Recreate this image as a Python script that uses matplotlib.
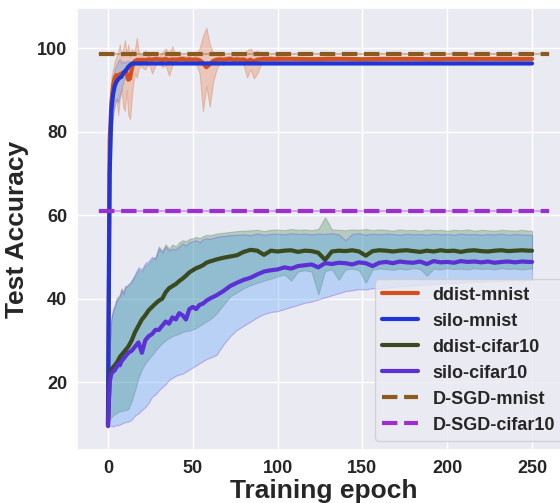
import matplotlib
matplotlib.use('Agg')
import matplotlib.pyplot as plt
import seaborn as sns

sns.set_theme(style='darkgrid')
plt.rcParams['font.family'] = ['Liberation Sans', 'DejaVu Sans']
plt.rcParams['font.weight'] = 'bold'

# ddist-mnist
ep_dm = list(range(0, 21)) + list(range(22, 101, 2)) + list(range(110, 251, 10))
dm_mean = [10, 78, 87, 91, 93, 93.6, 93.0, 93.8, 94.0, 94.2, 94.5, 94.0, 92.5, 92.8, 95.0, 96.5, 97.0, 97.2, 97.3, 97.2, 97.3,
           97.2, 97.4, 97.3, 97.5, 97.4, 97.3, 97.5, 97.2, 97.4, 97.3, 97.4, 97.5, 97.3, 97.4, 97.3, 97.4, 97.2, 96.5, 95.5, 96.2,
           97.0, 97.3, 97.4, 97.3, 97.4, 97.5, 97.3, 97.4, 97.3, 97.4, 97.0, 97.3, 96.9, 97.3, 97.4, 97.5, 97.4, 97.5, 97.4, 97.5,
           97.5, 97.4, 97.5, 97.5, 97.4, 97.5, 97.5, 97.5, 97.4, 97.5, 97.5, 97.5, 97.5, 97.5, 97.5]
dm_lo = [10, 70, 80, 84, 87, 88, 84, 88, 90, 86, 85, 90, 84, 83, 88, 92, 94, 93, 95, 96, 95.5,
         95.0, 96.5, 94.0, 96.0, 96.5, 95.5, 96.0, 93.5, 96.0, 96.5, 96.6, 96.8, 96.4, 96.6, 96.5, 96.2, 94.0, 85.0, 91.0, 86.0,
         92.0, 95.0, 96.5, 96.0, 96.6, 96.8, 96.5, 96.6, 96.3, 96.0, 93.0, 95.0, 92.8, 94.0, 96.0, 96.7, 96.6, 96.8, 96.7, 96.9,
         97.0, 96.9, 97.0, 97.1, 96.9, 97.0, 97.1, 97.0, 96.9, 97.1, 97.0, 97.1, 97.1, 97.0, 97.1]
dm_hi = [10, 86, 93, 95, 97, 98, 99, 101, 98, 100, 102, 99, 101, 98, 100, 99, 100, 102.5, 99.5, 98.5, 98.5,
         99.5, 98.0, 99.0, 98.5, 98.0, 99.0, 100.0, 99.0, 100.5, 98.0, 98.2, 98.3, 98.1, 98.2, 98.0, 98.5, 100.0, 103.0, 105.0, 101.0,
         99.0, 99.0, 98.3, 98.5, 98.2, 98.3, 98.1, 98.2, 98.4, 99.0, 99.5, 100.0, 99.0, 99.5, 98.5, 98.3, 98.2, 98.3, 98.1, 98.2,
         98.0, 98.0, 98.1, 97.9, 98.0, 98.0, 97.9, 98.0, 98.0, 97.9, 98.0, 97.9, 98.0, 97.9, 98.0]

# silo-mnist
ep_sm = list(range(0, 16)) + [20, 50, 100, 150, 200, 250]
sm_mean = [10, 70, 85, 89, 91, 92, 92.6, 93, 93.2, 94, 94.5, 95, 95.6, 96, 96.3, 96.4, 96.4, 96.4, 96.4, 96.4, 96.4, 96.4]
sm_lo = [10, 60, 78, 84, 86, 88, 87, 89, 90, 92, 93, 94, 95, 95.5, 96, 96.1, 96.2, 96.2, 96.2, 96.2, 96.2, 96.2]
sm_hi = [10, 80, 90, 93, 95, 96, 97, 97.5, 96.5, 97, 96.5, 97, 97, 97, 96.8, 96.7, 96.6, 96.6, 96.6, 96.6, 96.6, 96.6]

# cifar10
ep_c = list(range(0, 11)) + list(range(12, 61, 2)) + list(range(64, 249, 4)) + [250]
dc_mean = [9.5, 21.0, 23.0, 23.5, 24.0, 24.5, 25.2, 26.0, 26.5, 27.0, 27.5,
           28.5, 30.0, 32.0, 33.5, 35.0, 36.0, 37.2, 38.0, 38.8, 39.5, 40.0, 41.5, 42.5, 43.0, 43.5, 44.2, 44.8, 45.5, 46.3, 46.8,
           47.3, 47.6, 48.0, 48.6, 48.9,
           49.4, 49.8, 50.1, 50.4, 51.2, 51.7, 51.5, 50.5, 51.5, 51.3, 51.5, 51.6, 51.2, 51.5, 51.4, 51.0, 49.3, 51.3, 51.5, 51.4,
           51.6, 51.3, 50.3, 51.4, 51.6, 51.5, 51.3, 51.5, 51.6, 51.4, 51.2, 51.5, 51.3, 51.6, 51.4, 51.5, 51.2, 51.5, 51.6, 51.4,
           51.3, 51.5, 51.6, 51.4, 51.5, 51.6, 51.5,
           51.5]
dc_lo = [9.5, 11.0, 11.6, 12.0, 12.3, 12.5, 12.8, 13.0, 13.0, 13.2, 13.2,
         13.5, 15.5, 18.0, 21.0, 23.0, 24.5, 25.5, 26.5, 27.5, 28.5, 29.3, 30.0, 30.5, 31.0, 31.3, 31.6, 32.0, 32.2, 32.3, 32.6,
         33.0, 33.5, 34.0, 34.5, 35.0,
         36.4, 38.5, 40.5, 41.5, 42.5, 43.2, 43.8, 44.3, 44.8, 45.3, 45.8, 44.3, 46.5, 46.8, 46.5, 41.0, 46.6, 47.0, 44.5, 47.0,
         47.2, 46.8, 43.8, 47.0, 47.2, 47.1, 46.9, 47.2, 47.0, 47.3, 47.1, 45.5, 47.2, 47.0, 47.3, 47.1, 47.2, 47.0, 47.3, 47.1,
         47.2, 47.0, 47.3, 47.1, 47.2, 47.0, 47.2,
         47.2]
dc_hi = [9.5, 29.0, 35.5, 37.5, 38.5, 40.0, 40.5, 41.0, 42.5, 41.5, 43.0,
         43.0, 44.5, 45.5, 47.0, 46.5, 48.0, 48.5, 49.5, 50.0, 52.5, 51.5, 53.0, 52.0, 53.0, 52.5, 53.5, 54.0, 53.8, 54.3, 54.5,
         54.8, 54.5, 55.0, 55.3, 55.2,
         55.6, 55.8, 56.0, 56.2, 56.3, 56.4, 56.5, 56.2, 56.5, 56.6, 56.4, 56.7, 56.5, 56.6, 56.4, 56.7, 59.5, 56.6, 56.5, 56.4,
         56.6, 56.5, 56.7, 56.4, 56.6, 56.5, 56.3, 56.6, 56.4, 56.5, 56.3, 56.6, 56.4, 56.5, 56.3, 56.5, 56.4, 56.6, 56.3, 56.5,
         56.4, 56.3, 56.5, 56.4, 56.3, 56.5, 56.3,
         56.3]
sc_mean = [9.5, 20.0, 22.0, 22.5, 22.8, 23.5, 24.3, 24.0, 25.0, 25.5, 26.0,
           27.0, 27.5, 28.5, 29.5, 27.0, 30.0, 31.0, 31.5, 32.5, 32.5, 33.5, 34.5, 34.0, 35.5, 35.0, 36.5, 36.0, 35.0, 37.5, 38.0,
           37.5, 38.5, 38.8, 39.5, 40.0,
           40.8, 41.8, 43.0, 43.8, 44.5, 45.0, 45.8, 46.5, 46.8, 47.0, 47.5, 47.2, 47.8, 48.0, 48.2, 47.5, 48.5, 48.3, 48.6, 48.5,
           48.2, 48.7, 48.5, 47.8, 48.6, 48.8, 48.5, 48.9, 48.7, 48.6, 48.9, 48.3, 49.0, 48.7, 48.8, 48.6, 49.0, 48.8, 48.9, 48.7,
           48.9, 48.6, 48.8, 48.9, 48.7, 48.9, 48.8,
           48.8]
sc_lo = [9.0, 9.5, 9.5, 9.3, 9.5, 9.8, 9.6, 9.8, 10.0, 10.2, 10.4,
         10.5, 11.0, 12.0, 12.5, 13.3, 14.0, 15.0, 16.5, 17.0, 18.0, 18.8, 19.5, 20.5, 21.0, 21.5, 21.8, 22.0, 22.5, 23.0, 23.5,
         24.0, 24.5, 25.0, 25.5, 25.8,
         26.5, 29.0, 31.0, 32.5, 33.5, 34.5, 35.5, 36.3, 36.8, 37.0, 37.5, 38.0, 38.5, 39.0, 39.3, 39.8, 40.3, 40.8, 41.3, 41.8,
         42.0, 42.3, 42.2, 42.5, 42.4, 42.6, 42.8, 43.0, 43.0, 43.2, 43.3, 43.4, 43.5, 43.6, 43.8, 43.7, 43.9, 44.0, 44.1, 44.0,
         44.2, 44.3, 44.2, 44.4, 44.5, 44.4, 44.5,
         44.5]
sc_hi = [9.5, 28.0, 35.0, 37.0, 38.0, 39.5, 40.0, 40.5, 42.0, 41.0, 42.5,
         43.5, 44.0, 46.0, 47.5, 47.0, 48.5, 49.0, 50.0, 49.5, 52.0, 51.0, 52.5, 51.5, 52.0, 51.8, 52.5, 53.2, 52.8, 53.5, 53.8,
         54.0, 53.5, 54.2, 54.5, 54.3,
         54.8, 55.0, 55.2, 55.3, 55.4, 55.2, 55.6, 55.3, 55.5, 55.6, 55.4, 55.7, 55.5, 55.6, 55.4, 55.6, 55.5, 55.7, 55.4, 54.0,
         55.5, 55.7, 55.3, 55.6, 55.4, 55.6, 55.5, 55.3, 55.6, 55.4, 55.5, 55.3, 55.6, 55.4, 55.5, 55.3, 55.6, 55.4, 55.5, 55.3,
         55.5, 55.4, 55.6, 55.3, 55.5, 55.4, 55.3,
         55.3]

# D-SGD baselines
dsgd_x = [-5, 260]
dsgd_mnist = 98.6
dsgd_cifar = 61.0

fig = plt.figure(figsize=(5.6, 5.03), dpi=100)
ax = fig.add_axes([0.1375, 0.1054, 0.883, 0.8787])

# bands
ax.fill_between(ep_c, dc_lo, dc_hi, facecolor=(54/255, 137/255, 69/255, 0.3), edgecolor=(0.4, 0.5, 0.4, 0.35), lw=0.8)
ax.fill_between(ep_c, sc_lo, sc_hi, facecolor=(70/255, 154/255, 252/255, 0.3), edgecolor=(0.45, 0.25, 0.85, 0.35), lw=0.8)
ax.fill_between(ep_dm, dm_lo, dm_hi, facecolor=(232/255, 112/255, 58/255, 0.3), edgecolor=(0.85, 0.4, 0.2, 0.3), lw=0.8)
ax.fill_between(ep_sm, sm_lo, sm_hi, facecolor=(70/255, 154/255, 252/255, 0.3), edgecolor=(0.3, 0.4, 0.85, 0.3), lw=0.8)

ax.plot(ep_dm, dm_mean, color='#d4501c', lw=3, label='ddist-mnist')
ax.plot(ep_sm, sm_mean, color='#1f35d6', lw=3, label='silo-mnist')
ax.plot(ep_c, dc_mean, color='#384a1e', lw=3, label='ddist-cifar10')
ax.plot(ep_c, sc_mean, color='#5b30d4', lw=3, label='silo-cifar10')

ax.plot(dsgd_x, [dsgd_mnist, dsgd_mnist], color='#8a5a1e', lw=1.5, alpha=0.35)
ax.plot(dsgd_x, [dsgd_cifar, dsgd_cifar], color='#9b2fd0', lw=1.5, alpha=0.35)
ax.plot(dsgd_x, [dsgd_mnist, dsgd_mnist], '--', color='#8a5a1e', lw=3, label='D-SGD-mnist')
ax.plot(dsgd_x, [dsgd_cifar, dsgd_cifar], '--', color='#9b2fd0', lw=3, label='D-SGD-cifar10')

ax.set_xlim(-18.25, 273.25)
ax.set_ylim(3.7, 109.7)
ax.set_xticks([0, 50, 100, 150, 200, 250])
ax.set_yticks([20, 40, 60, 80, 100])
ax.tick_params(labelsize=13, length=0, pad=7, colors='#262626')
ax.set_xlabel('Training epoch', fontsize=19, fontweight='bold', color='#262626', labelpad=2)
ax.set_ylabel('Test Accuracy', fontsize=19, fontweight='bold', color='#262626', labelpad=6)

leg = ax.legend(loc='lower right', fontsize=13)
for t in leg.get_texts():
    t.set_color('#262626')

fig.savefig('out.png', dpi=100)
